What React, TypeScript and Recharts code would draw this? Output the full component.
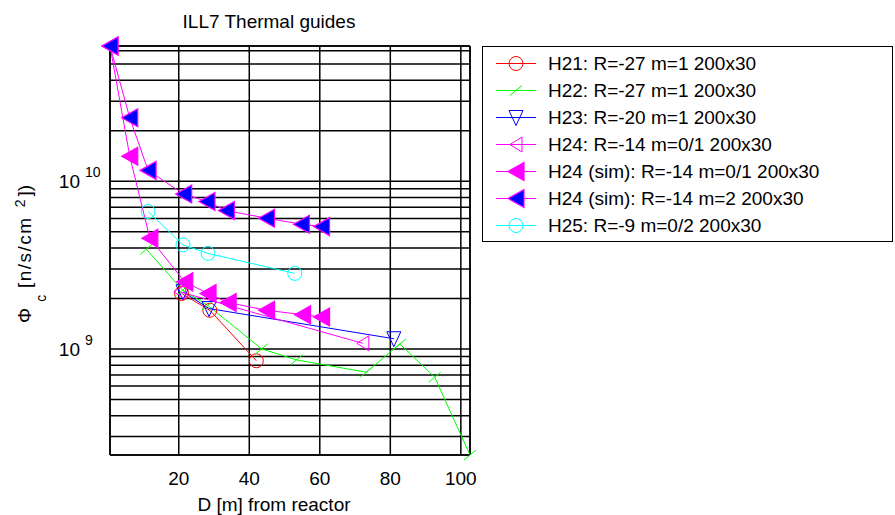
import {
  CartesianGrid,
  Legend,
  Line,
  LineChart,
  ReferenceLine,
  XAxis,
  YAxis,
} from "recharts";

const FONT = "'Liberation Sans Narrow', 'Liberation Sans', Arial, sans-serif";

// distance from reactor [m] and capture flux per guide
const H21_D = [20.8, 28.8, 42.0];
const H21_PHI = [2.14e9, 1.7e9, 8.5e8];

const H22_D = [10.8, 21.1, 28.2, 43.5, 53.4, 73.2, 82.7, 92.6, 102.6];
const H22_PHI = [3.93e9, 2.24e9, 1.82e9, 1.0e9, 8.6e8, 7.26e8, 1.07e9, 6.78e8, 2.33e8];

const H23_D = [21.2, 28.6, 81.0];
const H23_PHI = [2.19e9, 1.74e9, 1.15e9];

const H24_D = [20.3, 72.2];
const H24_PHI = [2.19e9, 1.08e9];

const H24SIM_D = [0.5, 6.1, 11.8, 21.7, 28.3, 34.0, 44.9, 55.1, 60.5];
const H24SIM_PHI = [6.4e10, 1.41e10, 4.57e9, 2.51e9, 2.14e9, 1.89e9, 1.7e9, 1.6e9, 1.55e9];

const H24SIM2_D = [0.5, 6.1, 11.3, 21.4, 28.0, 33.5, 44.9, 54.8, 60.5];
const H24SIM2_PHI = [6.4e10, 2.39e10, 1.16e10, 8.38e9, 7.57e9, 6.68e9, 6.02e9, 5.54e9, 5.36e9];

const H25_D = [11.3, 21.2, 28.3, 52.9];
const H25_PHI = [6.59e9, 4.17e9, 3.71e9, 2.82e9];

const X_TICKS = [20, 40, 60, 80, 100];
const Y_GRID = [
  3e8, 4e8, 5e8, 6e8, 7e8, 8e8, 9e8,
  1e9, 2e9, 3e9, 4e9, 5e9, 6e9, 7e9, 8e9, 9e9,
  1e10, 2e10, 3e10, 4e10, 5e10, 6e10,
];
const Y_LABELS: Record<number, string> = { 1e9: "9", 1e10: "10" };

const X_MIN = 0.5;
const X_MAX = 102.6;
const Y_MIN = 2.33e8;
const Y_MAX = 6.4e10;

type Shape = "circle" | "tick" | "triDown" | "triLeft" | "triLeftBig";

interface Series {
  name: string;
  d: number[];
  phi: number[];
  color: string;
  shape: Shape;
  fill: string;
}

const SERIES: Series[] = [
  { name: "H21: R=-27 m=1 200x30", d: H21_D, phi: H21_PHI, color: "#ff0000", shape: "circle", fill: "none" },
  { name: "H22: R=-27 m=1 200x30", d: H22_D, phi: H22_PHI, color: "#00ff00", shape: "tick", fill: "none" },
  { name: "H23: R=-20 m=1 200x30", d: H23_D, phi: H23_PHI, color: "#0000ff", shape: "triDown", fill: "none" },
  { name: "H24: R=-14 m=0/1 200x30", d: H24_D, phi: H24_PHI, color: "#ff00ff", shape: "triLeft", fill: "none" },
  { name: "H24 (sim): R=-14 m=0/1 200x30", d: H24SIM_D, phi: H24SIM_PHI, color: "#ff00ff", shape: "triLeftBig", fill: "#ff00ff" },
  { name: "H24 (sim): R=-14 m=2 200x30", d: H24SIM2_D, phi: H24SIM2_PHI, color: "#ff00ff", shape: "triLeftBig", fill: "#0000ff" },
  { name: "H25: R=-9 m=0/2 200x30", d: H25_D, phi: H25_PHI, color: "#00ffff", shape: "circle", fill: "none" },
];

function Marker({ cx, cy, s }: { cx: number; cy: number; s: Series }) {
  const c = s.color;
  switch (s.shape) {
    case "circle":
      return <circle cx={cx} cy={cy} r={7} fill="none" stroke={c} strokeWidth={1} />;
    case "tick":
      return <line x1={cx - 6} y1={cy + 5} x2={cx + 6} y2={cy - 5} stroke={c} strokeWidth={1} />;
    case "triDown":
      return (
        <polygon
          points={`${cx - 7},${cy - 7} ${cx + 7},${cy - 7} ${cx},${cy + 8}`}
          fill="none"
          stroke={c}
          strokeWidth={1}
        />
      );
    case "triLeft":
      return (
        <polygon
          points={`${cx - 6},${cy} ${cx + 6},${cy - 7.5} ${cx + 6},${cy + 7.5}`}
          fill="none"
          stroke={c}
          strokeWidth={1}
        />
      );
    default:
      return (
        <polygon
          points={`${cx - 8},${cy} ${cx + 8},${cy - 9} ${cx + 8},${cy + 9}`}
          fill={s.fill}
          stroke={c}
          strokeWidth={1.2}
        />
      );
  }
}

function YTick(props: any) {
  const { x, y, payload } = props;
  const sup = Y_LABELS[payload.value];
  if (!sup) return null;
  return (
    <g fontFamily={FONT} fill="#000">
      <text x={x - 30} y={y + 7} fontSize={19} textAnchor="end">
        10
      </text>
      <text x={x - 25} y={y - 4} fontSize={14}>
        {sup}
      </text>
    </g>
  );
}

function XTick(props: any) {
  const { x, y, payload } = props;
  return (
    <text x={x} y={y + 30} fontSize={19} fontFamily={FONT} fill="#000" textAnchor="middle">
      {payload.value}
    </text>
  );
}

function LegendBox() {
  return (
    <div
      style={{
        width: 411,
        height: 196,
        boxSizing: "border-box",
        border: "1.5px solid #000",
        background: "#fff",
        paddingTop: 3,
        fontFamily: FONT,
        fontSize: 19,
        color: "#000",
      }}
    >
      {SERIES.map((s) => (
        <div key={s.name} style={{ display: "flex", alignItems: "center", height: 27 }}>
          <svg width={40} height={27} style={{ marginLeft: 13 }}>
            <line x1={0} y1={13.5} x2={40} y2={13.5} stroke={s.color} strokeWidth={1} />
            <Marker cx={20} cy={13.5} s={s} />
          </svg>
          <span style={{ marginLeft: 12, whiteSpace: "nowrap" }}>{s.name}</span>
        </div>
      ))}
    </div>
  );
}

export default function App() {
  return (
    <div style={{ position: "absolute", left: 0, top: 0, background: "#fff" }}>
      <LineChart width={895} height={515} margin={{ top: 46, right: 425, bottom: 0, left: 0 }}>
        <CartesianGrid stroke="#000" strokeWidth={1.5} />
        <XAxis
          type="number"
          dataKey="d"
          domain={[X_MIN, X_MAX]}
          ticks={X_TICKS}
          height={60}
          tickSize={0}
          tickMargin={0}
          tickLine={false}
          axisLine={{ stroke: "#000", strokeWidth: 1.5 }}
          tick={<XTick />}
          label={{
            content: () => (
              <text x={274} y={511} fontSize={19} fontFamily={FONT} fill="#000" textAnchor="middle">
                D [m] from reactor
              </text>
            ),
          }}
        />
        <YAxis
          type="number"
          scale="log"
          dataKey="phi"
          domain={[Y_MIN, Y_MAX]}
          ticks={Y_GRID}
          width={110}
          tickSize={0}
          tickMargin={0}
          tickLine={false}
          interval={0}
          axisLine={{ stroke: "#000", strokeWidth: 1.5 }}
          tick={<YTick />}
          label={{
            content: () => (
              <text transform="rotate(-90)" x={-323} y={31} fontSize={19} fontFamily={FONT} fill="#000">
                Φ
                <tspan dx={6} dy={15} fontSize={14}>c</tspan>
                <tspan dy={-15} letterSpacing={1.5}> [n/s/cm</tspan>
                <tspan dx={9} dy={-6} fontSize={14}>2</tspan>
                <tspan dx={3} dy={6}>])</tspan>
              </text>
            ),
          }}
        />
        <ReferenceLine y={Y_MAX} stroke="#000" strokeWidth={1.5} />
        <ReferenceLine x={X_MAX} stroke="#000" strokeWidth={1.5} />
        {SERIES.map((s) => (
          <Line
            key={s.name}
            name={s.name}
            data={s.d.map((d, i) => ({ d, phi: s.phi[i] }))}
            dataKey="phi"
            type="linear"
            stroke={s.color}
            strokeWidth={1}
            isAnimationActive={false}
            dot={(p: any) => <Marker key={`${s.name}-${p.index}`} cx={p.cx} cy={p.cy} s={s} />}
            activeDot={false}
          />
        ))}
        <text x={269} y={28} fontSize={19} fontFamily={FONT} fill="#000" textAnchor="middle">
          ILL7 Thermal guides
        </text>
        <Legend
          layout="vertical"
          align="center"
          verticalAlign="middle"
          content={() => <LegendBox />}
          wrapperStyle={{ left: 482, top: 46, width: 411, height: 196 }}
        />
      </LineChart>
    </div>
  );
}
